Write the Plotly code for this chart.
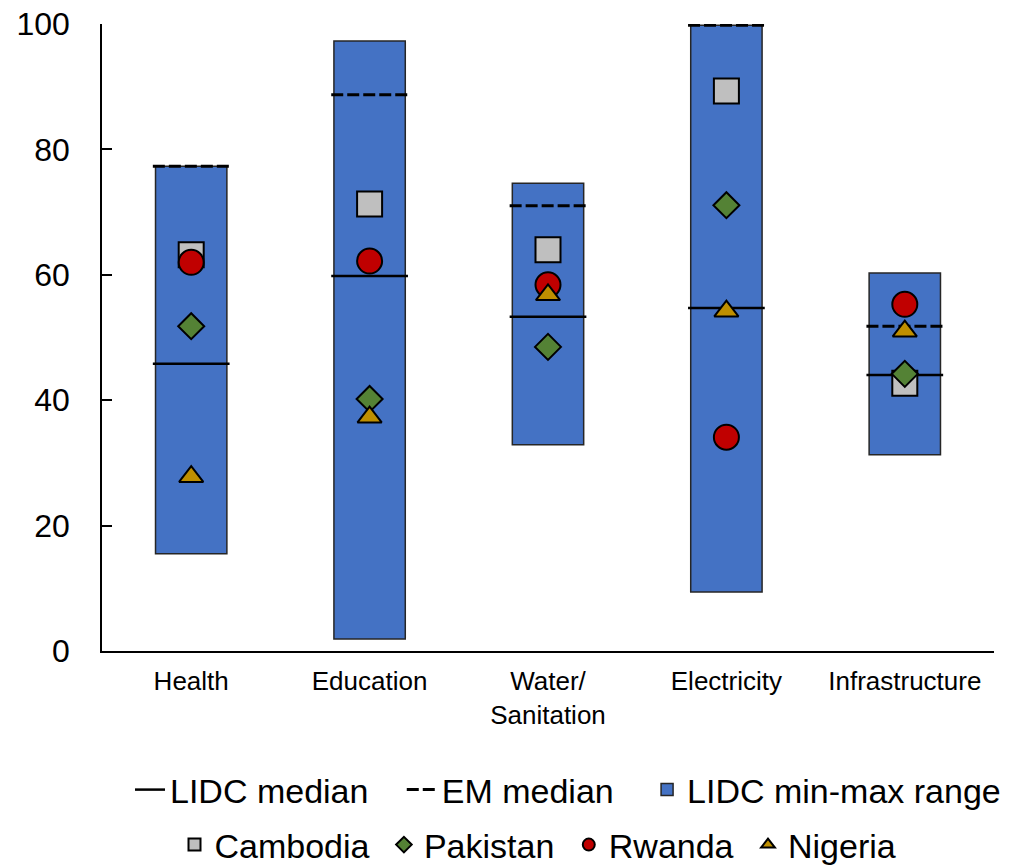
import plotly.graph_objects as go

categories = ["Health", "Education", "Water/<br>Sanitation", "Electricity", "Infrastructure"]
lidc_min = [15.5, 1.9, 32.9, 9.4, 31.3]
lidc_max = [77.3, 97.3, 74.6, 99.8, 60.3]
lidc_median = [45.8, 59.8, 53.3, 54.7, 44.0]
em_median = [77.3, 88.7, 71.0, 99.8, 51.8]
cambodia = [63.2, 71.3, 64.0, 89.3, 42.7]
pakistan = [51.8, 40.2, 48.5, 71.1, 44.2]
rwanda = [62.0, 62.2, 58.4, 34.1, 55.3]
nigeria = [27.8, 37.3, 56.8, 54.2, 51.0]

FONT = "Arial"
idx = list(range(len(categories)))
BAR_W = 0.40
HW = 0.215
PAD = "\u00a0" * 3
PAD2 = "\u00a0"

# page body has an 8px margin; figure is sized/placed to compensate
OFF = 8
W, H = 1014 - OFF, 865 - OFF


def segments(vals):
    xs, ys = [], []
    for i, v in enumerate(vals):
        xs += [i - HW, i + HW, None]
        ys += [v, v, None]
    return xs, ys


fig = go.Figure()

fig.add_trace(go.Bar(
    x=idx, y=[mx - mn for mx, mn in zip(lidc_max, lidc_min)], base=lidc_min,
    width=BAR_W, marker=dict(color="#4472C4", line=dict(color="#262626", width=1.5)),
    name="LIDC min-max range", legend="legend", legendrank=3,
))

lx, ly = segments(lidc_median)
fig.add_trace(go.Scatter(
    x=lx, y=ly, mode="lines", line=dict(color="black", width=2.5),
    name="LIDC median" + PAD, legend="legend", legendrank=1,
))
ex, ey = segments(em_median)
fig.add_trace(go.Scatter(
    x=ex, y=ey, mode="lines", line=dict(color="black", width=3, dash="12px,4px"),
    name="EM median" + PAD, legend="legend", legendrank=2,
))

countries = [
    ("Cambodia" + PAD2, cambodia, "square", "#BFBFBF", 25),
    ("Pakistan" + PAD2, pakistan, "diamond", "#548235", 20),
    ("Rwanda" + PAD2, rwanda, "circle", "#C00000", 25),
    ("Nigeria", nigeria, "triangle-up", "#BF8F00", 21),
]
for name, vals, sym, col, sz in countries:
    fig.add_trace(go.Scatter(
        x=idx, y=vals, mode="markers", name=name, legend="legend2",
        marker=dict(symbol=sym, color=col, size=sz, line=dict(color="black", width=2)),
    ))

fig.update_layout(
    width=W, height=H,
    margin=dict(l=102 - OFF, r=20, t=24 - OFF, b=214, autoexpand=False),
    plot_bgcolor="white", paper_bgcolor="white",
    font=dict(family=FONT, color="black"),
    showlegend=True,
    legend=dict(orientation="h", x=(568 - OFF) / W, xref="container", xanchor="center",
                y=1 - (790 - OFF) / H, yref="container", yanchor="middle",
                font=dict(size=34, family=FONT), traceorder="normal", itemwidth=30),
    legend2=dict(orientation="h", x=(538 - OFF) / W, xref="container", xanchor="center",
                 y=1 - (845 - OFF) / H, yref="container", yanchor="middle",
                 font=dict(size=34, family=FONT), itemsizing="constant", itemwidth=30),
)
fig.update_xaxes(
    range=[-0.5, 4.5], tickvals=idx, ticktext=categories, showline=True,
    linecolor="black", linewidth=1.5, showgrid=False, zeroline=False, ticks="",
    tickfont=dict(size=26, family=FONT), ticklabelstandoff=6, automargin=False,
    ticklabeloverflow="allow",
)
fig.update_yaxes(
    range=[0, 100], tickvals=[0, 20, 40, 60, 80, 100], showline=True,
    linecolor="black", linewidth=1.5, showgrid=False, zeroline=False,
    ticks="inside", ticklen=10, tickcolor="black", tickwidth=1.5,
    tickfont=dict(size=32, family=FONT), ticklabelstandoff=24, automargin=False,
    ticklabeloverflow="allow",
)

fig.write_html("out.html")
